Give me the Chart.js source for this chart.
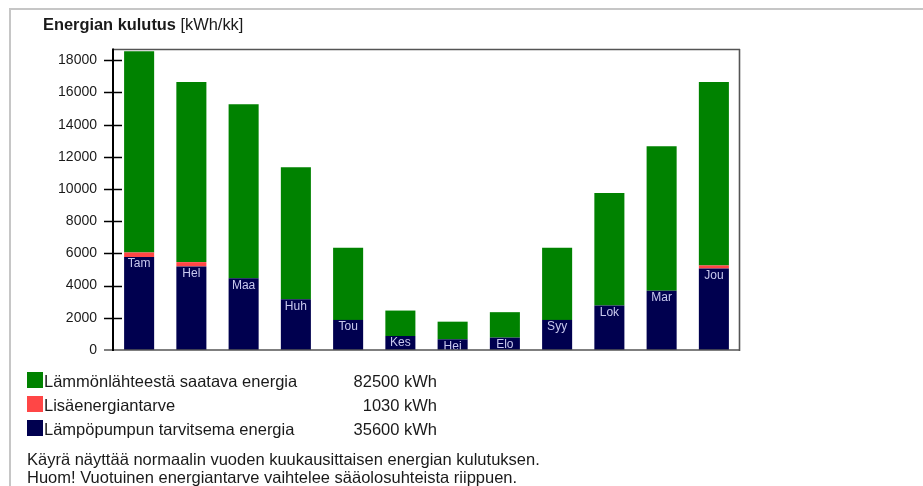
<!DOCTYPE html>
<html>
<head>
<meta charset="utf-8">
<script src="https://cdn.jsdelivr.net/npm/chart.js@4.4.1/dist/chart.umd.min.js"></script>
<style>
  html, body { margin: 0; padding: 0; background: #fff; }
  #page {
    position: relative; width: 923px; height: 486px; overflow: hidden;
    font-family: "Liberation Sans", Arial, sans-serif; color: #1a1a1a;
  }
  #frame {
    position: absolute; left: 9px; top: 8px; width: 930px; height: 500px;
    border-top: 2px solid #c6c6c6; border-left: 2px solid #c6c6c6;
  }
  #chart { position: absolute; left: 0; top: 0; }
  #title { position: absolute; left: 43px; top: 14px; font-size: 16.4px; line-height: 20px; white-space: nowrap; }
  #title b { font-weight: bold; }
  .row { position: absolute; left: 27px; height: 16px; font-size: 16.5px; line-height: 16px; white-space: nowrap; }
  .swatch { position: absolute; left: 0; top: 0; width: 16px; height: 16px; }
  .name { position: absolute; left: 17px; top: 1px; }
  .total { position: absolute; left: 300px; width: 110px; top: 1px; text-align: right; }
  .note { position: absolute; left: 27px; font-size: 16.5px; line-height: 18px; white-space: nowrap; }
</style>
</head>
<body>
<div id="page">
  <div id="frame"></div>
  <canvas id="chart" width="923" height="486"></canvas>
  <div id="title"><b>Energian kulutus</b> [kWh/kk]</div>
  <div id="legend"></div>
  <div class="note" style="top:450px">Käyrä näyttää normaalin vuoden kuukausittaisen energian kulutuksen.</div>
  <div class="note" style="top:468px">Huom! Vuotuinen energiantarve vaihtelee sääolosuhteista riippuen.</div>
</div>
<script>
// Monthly energy use, kWh per month
const months = ['Tam', 'Hel', 'Maa', 'Huh', 'Tou', 'Kes', 'Hei', 'Elo', 'Syy', 'Lok', 'Mar', 'Jou'];
const heatSourceEnergy = [12500, 11190, 10800, 8200, 4480, 1580, 1095, 1580, 4480, 7000, 8985, 11400];
const extraEnergy      = [290, 270, 0, 0, 0, 0, 0, 0, 0, 0, 0, 190];
const heatPumpEnergy   = [5770, 5190, 4460, 3155, 1870, 870, 665, 770, 1870, 2760, 3675, 5065];

const seriesNames  = ['Lämmönlähteestä saatava energia', 'Lisäenergiantarve', 'Lämpöpumpun tarvitsema energia'];
const annualTotals = ['82500 kWh', '1030 kWh', '35600 kWh'];
const yTickValues  = [0, 2000, 4000, 6000, 8000, 10000, 12000, 14000, 16000, 18000];

const COLORS = { source: '#008200', extra: '#ff4646', pump: '#00004f' };
const FONT = '"Liberation Sans", Arial, sans-serif';

// Legend rows with yearly totals
const legendColors = [COLORS.source, COLORS.extra, COLORS.pump];
const legendTops = [372, 396, 420];
const legendEl = document.getElementById('legend');
seriesNames.forEach((name, i) => {
  const row = document.createElement('div');
  row.className = 'row';
  row.style.top = legendTops[i] + 'px';
  row.innerHTML = '<div class="swatch" style="background:' + legendColors[i] + '"></div>' +
    '<div class="name">' + name + '</div><div class="total">' + annualTotals[i] + '</div>';
  legendEl.appendChild(row);
});

// Plot frame and y tick marks crossing the axis
const framePlugin = {
  id: 'frame',
  afterDraw(chart) {
    const { ctx, chartArea: a } = chart;
    const y = chart.scales.y;
    ctx.save();
    ctx.lineCap = 'butt';
    ctx.strokeStyle = '#555';
    ctx.lineWidth = 1.6;
    ctx.beginPath();
    ctx.moveTo(a.left, a.top + 0.5); ctx.lineTo(a.right, a.top + 0.5);
    ctx.moveTo(a.right - 0.5, a.top); ctx.lineTo(a.right - 0.5, a.bottom + 1);
    ctx.moveTo(a.left - 9, a.bottom); ctx.lineTo(a.right, a.bottom);
    ctx.stroke();
    ctx.strokeStyle = '#000';
    ctx.lineWidth = 2;
    ctx.beginPath();
    ctx.moveTo(a.left, a.top - 0.5); ctx.lineTo(a.left, a.bottom + 1);
    ctx.stroke();
    ctx.lineWidth = 1.6;
    ctx.beginPath();
    y.ticks.forEach(t => {
      if (t.value === 0) return;
      const py = Math.round(y.getPixelForValue(t.value)) + 0.5;
      ctx.moveTo(a.left - 9, py); ctx.lineTo(a.left + 9, py);
    });
    ctx.stroke();
    ctx.restore();
  }
};

// Month names inside the heat pump segment
const monthLabelPlugin = {
  id: 'monthLabels',
  afterDatasetsDraw(chart) {
    const { ctx, chartArea: a } = chart;
    const meta = chart.getDatasetMeta(0);
    ctx.save();
    ctx.beginPath();
    ctx.rect(a.left, a.top, a.right - a.left, a.bottom - a.top);
    ctx.clip();
    ctx.font = '12px ' + FONT;
    ctx.fillStyle = '#c8c8ee';
    ctx.textAlign = 'center';
    ctx.textBaseline = 'top';
    meta.data.forEach((bar, i) => {
      ctx.fillText(months[i], bar.x, bar.y + 1);
    });
    ctx.restore();
  }
};

new Chart(document.getElementById('chart'), {
  type: 'bar',
  data: {
    labels: months,
    datasets: [
      { label: seriesNames[2], data: heatPumpEnergy, backgroundColor: COLORS.pump },
      { label: seriesNames[1], data: extraEnergy, backgroundColor: COLORS.extra },
      { label: seriesNames[0], data: heatSourceEnergy, backgroundColor: COLORS.source }
    ]
  },
  options: {
    responsive: false,
    animation: false,
    devicePixelRatio: 1,
    layout: { padding: { left: 0, top: 49, right: 183, bottom: 136 } },
    datasets: { bar: { categoryPercentage: 1, barPercentage: 0.575, borderWidth: 0 } },
    plugins: { legend: { display: false }, tooltip: { enabled: false }, title: { display: false } },
    scales: {
      x: { stacked: true, display: false },
      y: {
        stacked: true,
        min: 0,
        max: 18700,
        afterBuildTicks(scale) { scale.ticks = yTickValues.map(v => ({ value: v })); },
        afterFit(scale) { scale.width = 113; },
        grid: { display: false, drawTicks: false },
        border: { display: false },
        ticks: {
          padding: 16, color: '#1a1a1a', font: { family: FONT, size: 14 },
          callback: v => String(v)
        }
      }
    }
  },
  plugins: [framePlugin, monthLabelPlugin]
});
</script>
</body>
</html>
